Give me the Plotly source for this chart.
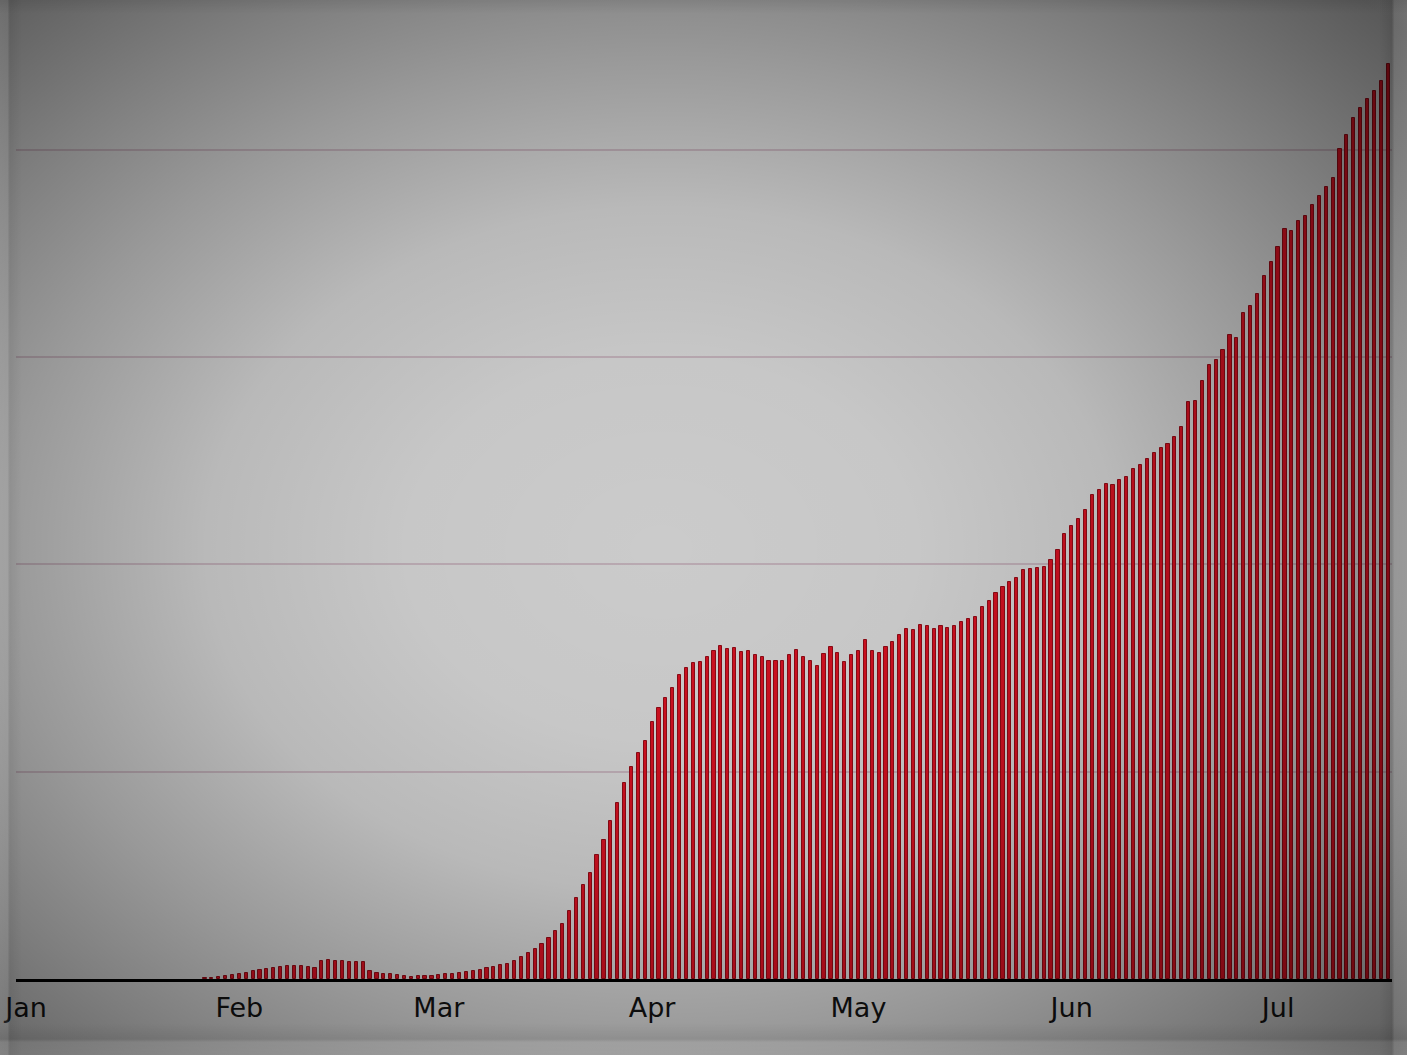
import base64
import pandas as pd
import plotly.graph_objects as go

# Daily values (thousands), one bar per day starting 2020-01-27
start_date = "2020-01-27"
values = [
    0.3, 0.3, 0.55, 0.8, 1.0, 1.3, 1.5, 2.0, 2.2, 2.5,
    2.7, 3.0, 3.2, 3.2, 3.2, 3.0, 2.7, 4.4, 4.65, 4.4,
    4.4, 4.2, 4.2, 4.2, 2.0, 1.5, 1.3, 1.3, 1.0, 0.75,
    0.5, 0.7, 0.7, 0.7, 1.0, 1.2, 1.2, 1.45, 1.7, 1.9,
    2.2, 2.65, 2.9, 3.4, 3.6, 4.3, 5.3, 6.3, 7.2, 8.4,
    9.9, 11.6, 13.3, 16.4, 19.5, 22.7, 25.6, 29.9, 33.5, 38.1,
    42.5, 47.3, 51.1, 54.5, 57.4, 62.0, 65.4, 67.8, 70.2, 73.3,
    75.0, 76.2, 76.5, 77.7, 79.1, 80.3, 79.6, 79.8, 78.9, 79.1,
    78.1, 77.7, 76.7, 76.7, 76.7, 78.1, 79.4, 77.7, 76.7, 75.5,
    78.4, 80.1, 78.6, 76.5, 78.1, 79.1, 81.8, 79.1, 78.6, 80.1,
    81.3, 83.0, 84.4, 84.2, 85.4, 85.1, 84.4, 85.1, 84.7, 85.1,
    86.1, 86.8, 87.3, 89.7, 91.2, 93.1, 94.5, 95.8, 96.7, 98.6,
    98.9, 99.1, 99.4, 101.1, 103.5, 107.3, 109.3, 111.0, 113.1, 116.7,
    117.9, 119.4, 119.2, 120.4, 121.1, 123.0, 124.0, 125.4, 126.9, 128.1,
    129.0, 130.7, 133.1, 139.2, 139.4, 144.2, 148.1, 149.3, 151.7, 155.3,
    154.6, 160.6, 162.3, 165.2, 169.5, 172.9, 176.6, 180.9, 180.4, 182.8,
    184.0, 186.7, 188.9, 191.0, 193.2, 200.2, 203.6, 207.7, 210.1, 212.3,
    214.2, 216.6, 220.7,
]
dates = pd.date_range(start_date, periods=len(values), freq="D")

tick_vals = ["2020-01-01", "2020-02-01", "2020-03-01", "2020-04-01",
             "2020-05-01", "2020-06-01", "2020-07-01"]
tick_text = ["Jan", "Feb", "Mar", "Apr", "May", "Jun", "Jul"]

W, H = 1407, 1055
ML, MR, MT, MB = 16, 15, 10, 76
plot_w = W - ML - MR
plot_h = H - MT - MB

# vignette overlay (SVG)
svg = f'''<svg xmlns="http://www.w3.org/2000/svg" width="{W}" height="{H}" viewBox="0 0 {W} {H}" preserveAspectRatio="none">
<defs>
<radialGradient id="v" cx="0.47" cy="0.52" r="0.72" gradientUnits="objectBoundingBox">
<stop offset="0" stop-color="#000" stop-opacity="0"/>
<stop offset="0.25" stop-color="#000" stop-opacity="0.02"/>
<stop offset="0.45" stop-color="#000" stop-opacity="0.09"/>
<stop offset="0.65" stop-color="#000" stop-opacity="0.25"/>
<stop offset="0.8" stop-color="#000" stop-opacity="0.38"/>
<stop offset="1" stop-color="#000" stop-opacity="0.56"/>
</radialGradient>
<linearGradient id="gl" x1="0" y1="0" x2="1" y2="0">
<stop offset="0" stop-color="#fff" stop-opacity="0.10"/>
<stop offset="0.35" stop-color="#fff" stop-opacity="0.08"/>
<stop offset="0.45" stop-color="#000" stop-opacity="0.06"/>
<stop offset="1" stop-color="#000" stop-opacity="0"/>
</linearGradient>
<linearGradient id="gr" x1="1" y1="0" x2="0" y2="0">
<stop offset="0" stop-color="#fff" stop-opacity="0.14"/>
<stop offset="0.45" stop-color="#fff" stop-opacity="0.10"/>
<stop offset="0.55" stop-color="#000" stop-opacity="0.08"/>
<stop offset="1" stop-color="#000" stop-opacity="0"/>
</linearGradient>
<linearGradient id="gb" x1="0" y1="1" x2="0" y2="0">
<stop offset="0" stop-color="#fff" stop-opacity="0.10"/>
<stop offset="0.4" stop-color="#fff" stop-opacity="0.07"/>
<stop offset="0.5" stop-color="#000" stop-opacity="0.07"/>
<stop offset="1" stop-color="#000" stop-opacity="0"/>
</linearGradient>
<linearGradient id="gt" x1="0" y1="0" x2="0" y2="1">
<stop offset="0" stop-color="#000" stop-opacity="0.08"/>
<stop offset="1" stop-color="#000" stop-opacity="0"/>
</linearGradient>
</defs>
<rect x="0" y="0" width="{W}" height="{H}" fill="url(#v)"/>
<rect x="0" y="0" width="22" height="{H}" fill="url(#gl)"/>
<rect x="{W-28}" y="0" width="28" height="{H}" fill="url(#gr)"/>
<rect x="0" y="{H-32}" width="{W}" height="32" fill="url(#gb)"/>
<rect x="0" y="0" width="{W}" height="14" fill="url(#gt)"/>
</svg>'''
svg_uri = "data:image/svg+xml;base64," + base64.b64encode(svg.encode()).decode()

fig = go.Figure()
fig.add_trace(go.Bar(
    x=dates,
    y=values,
    width=40000000,
    marker=dict(color="#cc1020", line=dict(color="#8a0a14", width=1)),
    hoverinfo="x+y",
))

fig.update_layout(
    width=W,
    height=H,
    margin=dict(l=ML, r=MR, t=MT, b=MB, pad=0, autoexpand=False),
    paper_bgcolor="#cbcbcb",
    plot_bgcolor="rgba(0,0,0,0)",
    showlegend=False,
    bargap=0,
    font=dict(family="DejaVu Sans", size=27, color="#111111"),
    xaxis=dict(
        type="date",
        range=["2019-12-30 12:45", "2020-07-17 13:26"],
        tickvals=tick_vals,
        ticktext=tick_text,
        showgrid=False,
        zeroline=False,
        showline=True,
        linecolor="#000000",
        linewidth=3,
        ticks="",
        ticklabelstandoff=3,
        automargin=False,
        tickfont=dict(family="DejaVu Sans", size=27, color="#111111"),
    ),
    yaxis=dict(
        range=[0, 233.7],
        dtick=50,
        showgrid=True,
        gridcolor="#b9a9b1",
        gridwidth=2,
        zeroline=False,
        showticklabels=False,
        ticks="",
        showline=False,
        automargin=False,
    ),
    images=[dict(
        source=svg_uri,
        xref="paper", yref="paper",
        x=-ML / plot_w, y=1 + MT / plot_h,
        sizex=W / plot_w, sizey=H / plot_h,
        xanchor="left", yanchor="top",
        sizing="stretch",
        layer="above",
        opacity=1,
    )],
)

fig.write_html("out.html")
